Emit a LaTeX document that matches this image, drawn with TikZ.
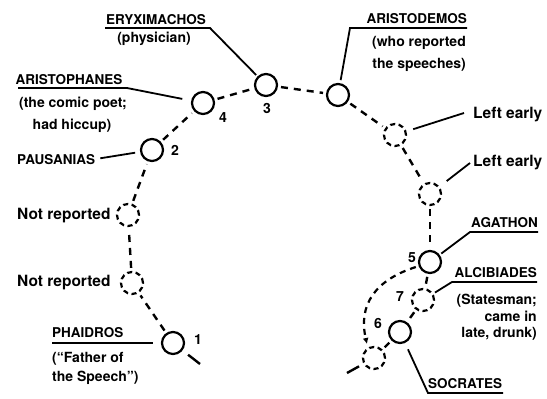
\documentclass[tikz,border=0pt]{standalone}
\usepackage{fontspec}
\setmainfont{TeX Gyre Heros}
\usetikzlibrary{arrows.meta}
\begin{document}
\begin{tikzpicture}[x=1pt,y=-1pt,
  person/.style={circle,draw,line width=2.2pt,minimum size=22pt,inner sep=0pt},
  absent/.style={person,dash pattern=on 5pt off 3.5pt},
  link/.style={line width=2.4pt,dash pattern=on 7pt off 6pt,shorten <=3pt,shorten >=3pt},
  tail/.style={line width=2.4pt},
  leader/.style={line width=1.8pt},
  ttl/.style={font=\bfseries\fontsize{13.5}{15}\selectfont,inner sep=0pt},
  sub/.style={font=\bfseries\fontsize{14}{16}\selectfont,inner sep=0pt},
  side/.style={font=\bfseries\fontsize{15.5}{18}\selectfont,inner sep=0pt},
  num/.style={font=\bfseries\fontsize{14}{16}\selectfont,inner sep=0pt},
]
\useasboundingbox (0,0) rectangle (547,399);
\fill[white] (0,0) rectangle (547,399);

% seats
\node[person] (p1) at (173,343) {};
\node[absent] (nr2) at (132,283) {};
\node[absent] (nr1) at (128,215) {};
\node[person] (p2) at (152,150) {};
\node[person] (p4) at (203,103) {};
\node[person] (p3) at (266,85) {};
\node[person] (pa) at (338,95) {};
\node[absent] (le1) at (395,135) {};
\node[absent] (le2) at (430,194) {};
\node[person] (p5) at (430,262) {};
\node[absent] (p7) at (423,300) {};
\node[person] (p6) at (400,332) {};
\node[absent] (pb) at (374,358) {};

% free ends
\coordinate (t1) at (200,364);
\coordinate (tb) at (347,373);
\coordinate (ar) at (367,344);

% dashed seating arc
\draw[link] (p1) -- (nr2);
\draw[link] (nr2) -- (nr1);
\draw[link] (nr1) -- (p2);
\draw[link] (p2) -- (p4);
\draw[link] (p4) -- (p3);
\draw[link] (p3) -- (pa);
\draw[link] (pa) -- (le1);
\draw[link] (le1) -- (le2);
\draw[link] (le2) -- (p5);
\draw[link] (p5) -- (p7);
\draw[link] (p7) -- (p6);
\draw[link] (p6) -- (pb);
\draw[tail,shorten <=7pt] (p1) -- (t1);
\draw[tail,shorten <=5pt] (pb) -- (tb);
\draw[line width=2.2pt,dash pattern=on 6pt off 5pt,shorten <=3pt,-{Latex[length=6pt,width=6pt]}]
  (p5.200) .. controls (375,280) and (358,305) .. (ar);

% numbers
\node[num] (n1) at (198,340) {1};
\node[num] (n2) at (175,150) {2};
\node[num] (n3) at (267,108) {3};
\node[num] (n4) at (223,118) {4};
\node[num] (n5) at (412,258) {5};
\node[num] (n7) at (400,297) {7};
\node[num] (n6) at (378,323) {6};

% Eryximachos
\node[ttl,anchor=base] (ery) at (156,24) {ERYXIMACHOS};
\node[sub,anchor=base] (ery2) at (154,42) {(physician)};
\coordinate (ua3) at (105,28);
\coordinate (ub3) at (210,28);
\draw[leader,shorten >=2pt] (ua3) -- (ub3) -- (p3);

% Aristophanes
\node[ttl,anchor=base] (ari) at (69,84) {ARISTOPHANES};
\node[sub,anchor=base] (ari2) at (73,107) {(the comic poet;};
\node[sub,anchor=base] (ari3) at (72,129) {had hiccup)};
\coordinate (ua4) at (18,88);
\coordinate (ub4) at (127,88);
\draw[leader,shorten >=9pt] (ua4) -- (ub4) -- (p4);

% Pausanias
\node[ttl,anchor=base west] (pau) at (17,164) {PAUSANIAS};
\draw[leader,shorten <=5pt,shorten >=5pt] (pau.east) -- (p2);

% Not reported
\node[side,anchor=base west] (nra) at (17,219) {Not reported};
\node[side,anchor=base west] (nrb) at (17,286) {Not reported};

% Phaidros
\node[ttl,anchor=base west] (pha) at (52,337) {PHAIDROS};
\node[sub,anchor=base west] (pha2) at (52,362) {(``Father of};
\node[sub,anchor=base west] (pha3) at (52,381) {the Speech'')};
\coordinate (ua1) at (52,343);
\draw[leader,shorten >=8pt] (ua1) -- (p1);

% Aristodemos
\node[ttl,anchor=base east] (ard) at (467,23) {ARISTODEMOS};
\node[sub,anchor=base east] (ard2) at (466,46) {(who reported};
\node[sub,anchor=base east] (ard3) at (466,68) {the speeches)};
\coordinate (uaa) at (467,28);
\coordinate (uba) at (350,28);
\draw[leader,shorten >=3pt] (uaa) -- (uba) -- (pa);

% Left early
\node[side,anchor=base west] (lea) at (473,118) {Left early};
\node[side,anchor=base west] (leb) at (473,166) {Left early};
\coordinate (l1) at (464,113);
\coordinate (l2) at (470,163);
\draw[leader,shorten <=7pt] (le1) -- (l1);
\draw[leader,shorten <=9pt] (le2) -- (l2);

% Agathon
\node[ttl,anchor=base east] (aga) at (538,227) {AGATHON};
\coordinate (ua5) at (538,232);
\coordinate (ub5) at (470,232);
\draw[leader,shorten >=2pt] (ua5) -- (ub5) -- (p5);

% Alcibiades
\node[ttl,anchor=base east] (alc) at (537,277) {ALCIBIADES};
\node[sub,anchor=base east] (alc2) at (537,304) {(Statesman;};
\node[sub,anchor=base east] (alc3) at (537,321) {came in};
\node[sub,anchor=base east] (alc4) at (537,337) {late, drunk)};
\coordinate (ua7) at (537,282);
\coordinate (ub7) at (452,282);
\draw[leader,shorten >=2pt] (ua7) -- (ub7) -- (p7);

% Socrates
\node[ttl,anchor=base west] (soc) at (428,388) {SOCRATES};
\coordinate (ua6) at (503,393);
\coordinate (ub6) at (428,393);
\draw[leader,shorten >=7pt] (ua6) -- (ub6) -- (p6);
\end{tikzpicture}
\end{document}
